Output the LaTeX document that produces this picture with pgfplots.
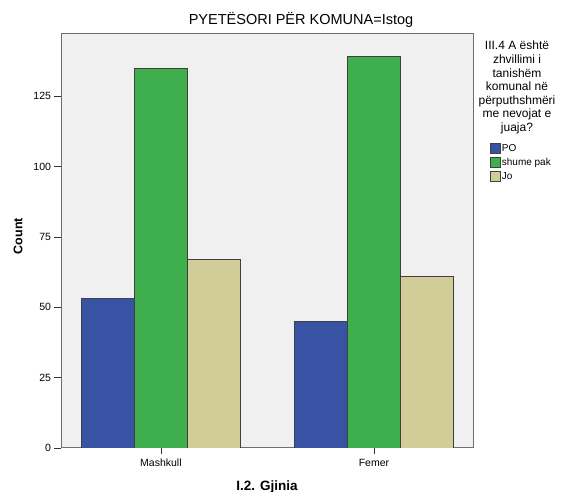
\documentclass[border=0pt]{standalone}
\usepackage{pgfplots}
\pgfplotsset{compat=1.18}
\usepackage{fontspec}
\setmainfont{Liberation Sans}

\definecolor{poblue}{RGB}{57,83,164}
\definecolor{pakgreen}{RGB}{62,175,76}
\definecolor{jotan}{RGB}{210,204,152}
\definecolor{plotbg}{RGB}{240,240,240}
\definecolor{framegray}{RGB}{110,110,110}

\begin{document}
\begin{tikzpicture}
  \useasboundingbox (0,0) rectangle (566pt,492pt);
  \begin{axis}[
      at={(61pt,44pt)}, anchor=south west,
      scale only axis, width=412pt, height=414pt,
      xmin=-0.469, xmax=1.465, ymin=0, ymax=147.1,
      ybar=0pt, bar width=53pt,
      xtick={0,1}, xticklabels={Mashkull,Femer},
      ytick={0,25,50,75,100,125},
      tick pos=left, tick align=outside,
      major tick length=6.5pt,
      every tick/.style={black!80, line width=0.8pt},
      axis background/.style={fill=plotbg},
      axis line style={framegray, line width=1pt},
      tick label style={font=\fontsize{10.5}{12}\selectfont},
      /pgf/number format/assume math mode=true,
      xticklabel style={yshift=-1pt},
      legend style={at={(1.041,0.736)}, anchor=north west, draw=none, fill=none,
        font=\fontsize{10}{11}\selectfont, inner sep=0pt,
        row sep=3pt,
        nodes={inner sep=1pt}},
      legend cell align=left,
      legend image code/.code={\draw[#1] (0pt,-5pt) rectangle (10pt,5pt);},
    ]
    \addplot[fill=poblue, draw=black!75, line width=0.8pt] coordinates {(0,53) (1,45)};
    \addlegendentry{PO}
    \addplot[fill=pakgreen, draw=black!75, line width=0.8pt] coordinates {(0,135) (1,139)};
    \addlegendentry{shume pak}
    \addplot[fill=jotan, draw=black!75, line width=0.8pt] coordinates {(0,67) (1,61)};
    \addlegendentry{Jo}
  \end{axis}
  \node[font=\fontsize{14.5}{16}\selectfont, anchor=center] at (301pt,472pt) {PYETËSORI PËR KOMUNA=Istog};
  \node[font=\bfseries\fontsize{12.5}{14}\selectfont, rotate=90] at (18pt,256pt) {Count};
  \node[font=\bfseries\fontsize{13.5}{15}\selectfont] at (267pt,5pt) {I.2. Gjinia};
  \node[align=center, anchor=north, inner sep=0pt, font=\fontsize{12}{13.6}\selectfont]
    at (517pt,451pt) {III.4 A është\\zhvillimi i\\tanishëm\\komunal në\\përputhshmëri\\me nevojat e\\juaja?};
\end{tikzpicture}
\end{document}
